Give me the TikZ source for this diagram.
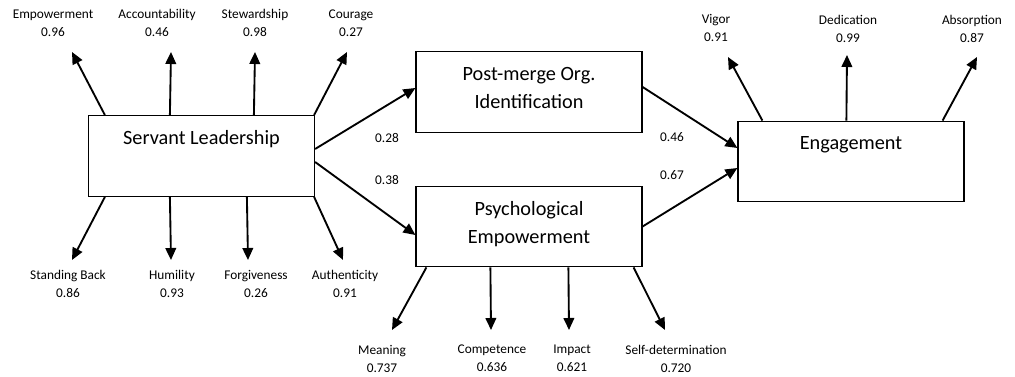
\documentclass[tikz,border=0pt]{standalone}
\usepackage{fontspec}
\setmainfont{Carlito}
\usetikzlibrary{arrows.meta, positioning, calc}

\begin{document}
\begin{tikzpicture}[
    x=0.75pt, y=-0.75pt,
    construct/.style={
        draw, line width=0.9pt, minimum width=169.5pt, minimum height=60.5pt,
        align=center, text depth=6.5pt, font=\fontsize{15.2}{21}\selectfont
    },
    item/.style={align=center, inner sep=1pt, font=\fontsize{10}{13.5}\selectfont},
    coef/.style={inner sep=1pt, font=\fontsize{10}{12}\selectfont},
    arr/.style={-{Triangle[length=9pt, width=8pt]}, line width=1.4pt}
]
\useasboundingbox (0,0) rectangle (1015,377);

% Constructs
\node[construct] (sl) at (201.5,156) {Servant Leadership\\\strut};
\node[construct] (poi) at (529,92) {Post-merge Org.\\Identification};
\node[construct] (pe) at (529,226.5) {Psychological\\Empowerment};
\node[construct] (eng) at (851,161.5) {Engagement\\\strut};

% Structural paths
\draw[arr] ($(sl.east)+(0,-7)$) -- ($(poi.west)+(0,-4)$);
\draw[arr] ($(sl.east)+(0,6)$) -- ($(pe.west)+(0,8.5)$);
\draw[arr] ($(poi.east)+(0,-5)$) -- ($(eng.west)+(0,-13.5)$);
\draw[arr] (pe.east) -- ($(eng.west)+(0,6.5)$);

\node[coef] (c1) at (387,138) {0.28};
\node[coef] (c2) at (387,180) {0.38};
\node[coef] (c3) at (672,137) {0.46};
\node[coef] (c4) at (672,175) {0.67};

% Servant leadership dimensions
\node[item] (emp) at (53,23) {Empowerment\\0.96};
\node[item] (acc) at (157,23) {Accountability\\0.46};
\node[item] (stw) at (255,23) {Stewardship\\0.98};
\node[item] (cou) at (351,23) {Courage\\0.27};
\node[item] (stb) at (68,283.5) {Standing Back\\0.86};
\node[item] (hum) at (172,283.5) {Humility\\0.93};
\node[item] (frg) at (256,283.5) {Forgiveness\\0.26};
\node[item] (aut) at (345,283.5) {Authenticity\\0.91};

\coordinate (empTip) at (72,52);
\coordinate (accTip) at (171,52);
\coordinate (stwTip) at (255,52);
\coordinate (couTip) at (347,52);
\coordinate (stbTip) at (72,260);
\coordinate (humTip) at (171,260);
\coordinate (frgTip) at (248,260);
\coordinate (autTip) at (343,260);

\draw[arr] ($(sl.north west)+(17,0)$) -- (empTip);
\draw[arr] ($(sl.north west)+(82,0)$) -- (accTip);
\draw[arr] ($(sl.north west)+(166,0)$) -- (stwTip);
\draw[arr] ($(sl.north east)+(-1,0)$) -- (couTip);
\draw[arr] ($(sl.south west)+(17,0)$) -- (stbTip);
\draw[arr] ($(sl.south west)+(82,0)$) -- (humTip);
\draw[arr] ($(sl.south west)+(159,0)$) -- (frgTip);
\draw[arr] ($(sl.south east)+(-1,0)$) -- (autTip);

% Psychological empowerment dimensions
\node[item] (mea) at (382,358.5) {Meaning\\0.737};
\node[item] (com) at (492,358.5) {Competence\\0.636};
\node[item] (imp) at (572,358.5) {Impact\\0.621};
\node[item] (sdt) at (676,358.5) {Self-determination\\0.720};

\coordinate (meaTip) at (392,330);
\coordinate (comTip) at (491,330);
\coordinate (impTip) at (569,330);
\coordinate (sdtTip) at (665,330);

\draw[arr] ($(pe.south west)+(11,0)$) -- (meaTip);
\draw[arr] ($(pe.south west)+(75,0)$) -- (comTip);
\draw[arr] ($(pe.south west)+(153,0)$) -- (impTip);
\draw[arr] ($(pe.south east)+(-9,0)$) -- (sdtTip);

% Engagement dimensions
\node[item] (vig) at (716,28) {Vigor\\0.91};
\node[item] (ded) at (848,28.5) {Dedication\\0.99};
\node[item] (abs) at (972,28.5) {Absorption\\0.87};

\coordinate (vigTip) at (728,57);
\coordinate (dedTip) at (847,55);
\coordinate (absTip) at (977,57);

\draw[arr] ($(eng.north west)+(25,0)$) -- (vigTip);
\draw[arr] ($(eng.north west)+(109,0)$) -- (dedTip);
\draw[arr] ($(eng.north east)+(-22,0)$) -- (absTip);

\end{tikzpicture}
\end{document}
